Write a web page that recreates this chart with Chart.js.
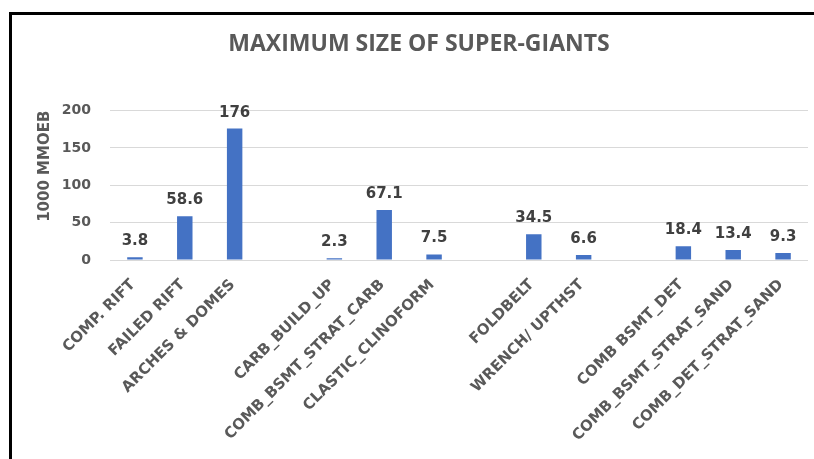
<!DOCTYPE html>
<html>
<head>
<meta charset="utf-8">
<script src="https://cdn.jsdelivr.net/npm/chart.js@4.4.1/dist/chart.umd.min.js"></script>
<style>
    html, body { margin: 0; padding: 0; background: #fff; overflow: hidden; }
    #frame { position: absolute; left: 9px; top: 12px; width: 820px; height: 470px;
             border-left: 3px solid #000; border-top: 3px solid #000; }
    #chart-container { position: absolute; left: 0; top: 0; width: 814px; height: 459px; }
</style>
</head>
<body>
<div id="frame"></div>
<div id="chart-container"><canvas id="size-chart" width="814" height="459"></canvas></div>
<script>
// categories (empty strings are the gaps between trap groups)
var trapTypes = ['COMP. RIFT', 'FAILED RIFT', 'ARCHES & DOMES', '',
    'CARB_BUILD_UP', 'COMB_BSMT_STRAT_CARB', 'CLASTIC_CLINOFORM', '',
    'FOLDBELT', 'WRENCH/ UPTHST', '',
    'COMB BSMT_DET', 'COMB_BSMT_STRAT_SAND', 'COMB_DET_STRAT_SAND'];
// maximum size, 1000 MMOEB
var maxSize = [3.8, 58.6, 176, null,
    2.3, 67.1, 7.5, null,
    34.5, 6.6, null,
    18.4, 13.4, 9.3];
var yTicks = [0, 50, 100, 150, 200];

var FONT = '"DejaVu Sans", sans-serif';
var GREY = '#595959';

/**
 * Writes the value above each bar
 */
var valueLabels = {
    id: 'valueLabels',
    afterDatasetsDraw: function (chart) {
        var ctx = chart.ctx;
        var meta = chart.getDatasetMeta(0);
        ctx.save();
        ctx.font = 'bold 15px ' + FONT;
        ctx.fillStyle = '#404040';
        ctx.textAlign = 'center';
        ctx.textBaseline = 'alphabetic';
        meta.data.forEach(function (bar, i) {
            if (maxSize[i] === null) return;
            ctx.fillText(String(maxSize[i]), bar.x, bar.y - 12);
        });
        ctx.restore();
    }
};

var ctx = document.getElementById('size-chart').getContext('2d');
var chart = new Chart(ctx, {
    type: 'bar',
    data: {
        labels: trapTypes,
        datasets: [{
            data: maxSize,
            backgroundColor: '#4472C4',
            barPercentage: 0.31,
            categoryPercentage: 1
        }]
    },
    options: {
        responsive: false,
        animation: false,
        layout: {padding: {left: 30, right: 6, top: 0, bottom: 0}},
        plugins: {
            legend: {display: false},
            tooltip: {enabled: false},
            title: {
                display: true,
                text: 'MAXIMUM SIZE OF SUPER-GIANTS',
                color: GREY,
                font: {family: '"Open Sans", sans-serif', size: 23, weight: 'bold', lineHeight: 1.2},
                padding: {top: 31, bottom: 52}
            }
        },
        scales: {
            x: {
                grid: {display: false},
                border: {display: false},
                ticks: {
                    color: GREY,
                    font: {family: FONT, size: 15, weight: 'bold'},
                    autoSkip: false,
                    minRotation: 45,
                    maxRotation: 45,
                    padding: 8,
                    labelOffset: -2
                },
                afterFit: function (scale) { scale.height = 199; }
            },
            y: {
                min: 0,
                max: 200,
                border: {display: false},
                grid: {color: '#d9d9d9', drawTicks: false},
                ticks: {
                    color: GREY,
                    font: {family: FONT, size: 14, weight: 'bold'},
                    padding: 19
                },
                afterBuildTicks: function (scale) {
                    scale.ticks = yTicks.map(function (v) { return {value: v}; });
                },
                title: {
                    display: true,
                    text: '1000 MMOEB',
                    align: 'end',
                    color: GREY,
                    font: {family: FONT, size: 15, weight: 'bold'},
                    padding: {top: 6, bottom: 0}
                },
                afterFit: function (scale) { scale.width = 80; }
            }
        }
    },
    plugins: [valueLabels]
});
</script>
</body>
</html>
